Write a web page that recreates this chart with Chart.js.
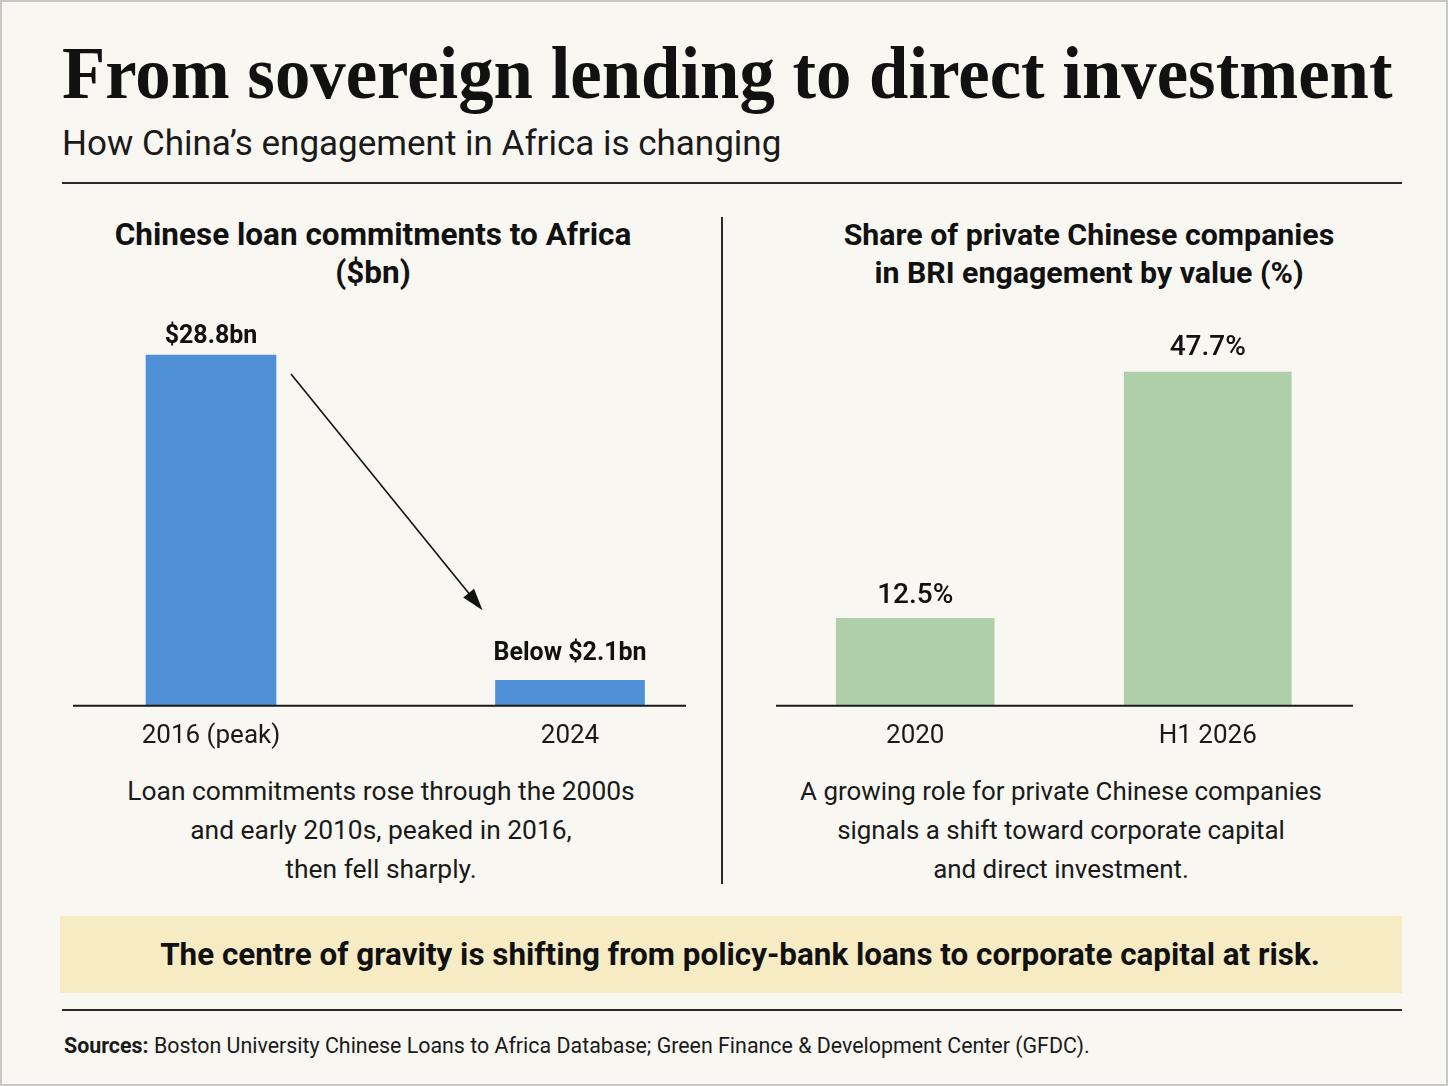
<!DOCTYPE html>
<html>
<head>
<meta charset="utf-8">
<script src="https://cdn.jsdelivr.net/npm/chart.js@4.4.1/dist/chart.umd.min.js"></script>
<style>
  html, body { margin: 0; padding: 0; }
  body { width: 1448px; height: 1086px; background: #f8f7f2; font-family: Roboto, "Liberation Sans", sans-serif; color: #111; overflow: hidden; }
  #page { position: relative; width: 1448px; height: 1086px; box-shadow: inset 0 0 0 2px #c8c8c4; }
  .abs { position: absolute; }
  #title { left: 62px; top: 36px; font-family: "Liberation Serif", "DejaVu Serif", serif; font-weight: bold; font-size: 74px; line-height: 74px; white-space: nowrap; transform-origin: left top; display: inline-block; color: #111; }
  #subtitle { left: 62px; top: 126px; font-size: 35px; line-height: 35px; white-space: nowrap; color: #1a1a1a; }
  .rule { left: 62px; width: 1340px; height: 2px; background: #2a2a2a; }
  #divider { left: 721px; top: 217px; width: 2px; height: 667px; background: #2a2a2a; z-index: 5; }
  .ctitle { width: 700px; text-align: center; font-weight: bold; font-size: 31.5px; line-height: 38px; top: 216px; z-index: 4; }
  .desc { width: 700px; text-align: center; font-size: 26.4px; line-height: 39px; top: 772px; color: #1a1a1a; }
  #band { left: 60px; top: 916px; width: 1342px; height: 77px; background: #f7ebc3; text-align: center; font-weight: bold; font-size: 31.4px; line-height: 77px; box-sizing: border-box; padding-left: 18px; }
  #sources { left: 64px; top: 1033px; font-size: 21.4px; line-height: 26px; white-space: nowrap; color: #1a1a1a; }
  canvas { position: absolute; }
</style>
</head>
<body>
<div id="page">
  <div id="title" class="abs">From sovereign lending to direct investment</div>
  <div id="subtitle" class="abs">How China’s engagement in Africa is changing</div>
  <div class="abs rule" style="top:182px"></div>
  <div id="divider" class="abs"></div>

  <div class="abs ctitle" style="left:23px">Chinese loan commitments to Africa<br>($bn)</div>
  <div class="abs ctitle" style="left:739px;font-size:30.3px">Share of private Chinese companies<br>in BRI engagement by value (%)</div>

  <div style="position:absolute;left:0;top:300px;width:760px;height:467px"><canvas id="loans"></canvas></div>
  <div style="position:absolute;left:760px;top:300px;width:686px;height:467px"><canvas id="share"></canvas></div>

  <div class="abs desc" style="left:31px">Loan commitments rose through the 2000s<br>and early 2010s, peaked in 2016,<br>then fell sharply.</div>
  <div class="abs desc" style="left:711px;font-size:25.9px">A growing role for private Chinese companies<br>signals a shift toward corporate capital<br>and direct investment.</div>

  <div id="band" class="abs">The centre of gravity is shifting from policy-bank loans to corporate capital at risk.</div>
  <div class="abs rule" style="top:1009px"></div>
  <div id="sources" class="abs"><b>Sources:</b> Boston University Chinese Loans to Africa Database; Green Finance &amp; Development Center (GFDC).</div>
</div>

<script>
// data
var loanYears = ['2016 (peak)', '2024'];
var loanValues = [28.8, 2.1];
var loanLabels = ['$28.8bn', 'Below $2.1bn'];

var shareYears = ['2020', 'H1 2026'];
var shareValues = [12.5, 47.7];
var shareLabels = ['12.5%', '47.7%'];

var SANS = 'Roboto, "Liberation Sans", sans-serif';

// fit the headline to its measured width
var title = document.getElementById('title');
title.style.transform = 'scaleX(' + (1330 / title.scrollWidth) + ')';

// one dataset per bar so each bar can have its own width
function barSets(values, color, widths) {
  return values.map(function (v, i) {
    var d = values.map(function () { return null; });
    d[i] = v;
    return { data: d, backgroundColor: color, barThickness: widths[i], borderWidth: 0 };
  });
}

// baseline, value labels and the optional arrow
var decorations = {
  id: 'decorations',
  afterDatasetsDraw: function (chart, args, opts) {
    var ctx = chart.ctx;
    var y0 = chart.scales.y.getPixelForValue(0);
    ctx.save();
    ctx.strokeStyle = '#1a1a1a';
    ctx.lineWidth = 2;
    ctx.beginPath();
    ctx.moveTo(opts.axisFrom, y0);
    ctx.lineTo(opts.axisTo, y0);
    ctx.stroke();

    var bars = chart.data.datasets.map(function (ds, i) {
      return chart.getDatasetMeta(i).data[i];
    });
    ctx.fillStyle = '#111';
    ctx.font = opts.labelFont;
    ctx.textAlign = 'center';
    ctx.textBaseline = 'alphabetic';
    bars.forEach(function (b, i) {
      ctx.fillText(opts.labels[i], b.x, b.y - opts.gap[i]);
    });

    if (opts.arrow) {
      var a = bars[0], b = bars[1];
      var x1 = a.x + a.width / 2 + 15, y1 = a.y + 19;
      var x2 = b.x - b.width / 2 - 13, y2 = b.y - 70;
      var ang = Math.atan2(y2 - y1, x2 - x1);
      var head = 22;
      ctx.strokeStyle = '#111';
      ctx.lineWidth = 1.6;
      ctx.beginPath();
      ctx.moveTo(x1, y1);
      ctx.lineTo(x2 - head * 0.8 * Math.cos(ang), y2 - head * 0.8 * Math.sin(ang));
      ctx.stroke();
      ctx.beginPath();
      ctx.moveTo(x2, y2);
      ctx.lineTo(x2 - head * Math.cos(ang) + 7 * Math.sin(ang), y2 - head * Math.sin(ang) - 7 * Math.cos(ang));
      ctx.lineTo(x2 - head * Math.cos(ang) - 7 * Math.sin(ang), y2 - head * Math.sin(ang) + 7 * Math.cos(ang));
      ctx.closePath();
      ctx.fill();
    }
    ctx.restore();
  }
};

function makeChart(id, labels, values, color, widths, yMax, pad, deco) {
  return new Chart(document.getElementById(id), {
    type: 'bar',
    data: { labels: labels, datasets: barSets(values, color, widths) },
    options: {
      responsive: true,
      maintainAspectRatio: false,
      animation: false,
      events: [],
      layout: { padding: pad },
      datasets: { bar: { grouped: false } },
      plugins: { legend: { display: false }, tooltip: { enabled: false }, decorations: deco },
      scales: {
        x: {
          grid: { display: false, drawTicks: false },
          border: { display: false },
          ticks: { color: '#1a1a1a', padding: 15, font: { family: SANS, size: 26 } }
        },
        y: { display: false, min: 0, max: yMax }
      }
    },
    plugins: [decorations]
  });
}

makeChart('loans', loanYears, loanValues, '#4f8fd5', [130, 149], 30.86,
  { left: 31.5, right: 10.5, top: 30, bottom: 0 },
  { axisFrom: 73, axisTo: 686, labels: loanLabels, gap: [12, 20],
    labelFont: 'bold 25px ' + SANS, arrow: true });

makeChart('share', shareYears, shareValues, '#afcfa8', [158, 167], 53.7,
  { left: 9, right: 92, top: 30, bottom: 0 },
  { axisFrom: 16, axisTo: 593, labels: shareLabels, gap: [15, 17],
    labelFont: '500 28px ' + SANS, arrow: false });
</script>
</body>
</html>
